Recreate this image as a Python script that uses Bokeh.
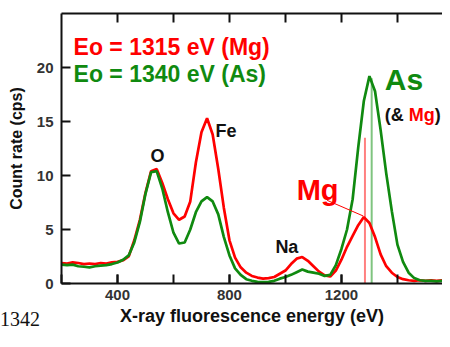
from bokeh.plotting import figure
from bokeh.models import Range1d, LinearAxis, FixedTicker, Div
from bokeh.layouts import column
from bokeh.embed import file_html
from bokeh.resources import INLINE
from bokeh.core.properties import value

# ---------------- data ----------------
energy = list(range(200, 1600, 20))  # eV

count_mg = [1.90, 1.85, 1.95, 1.90, 1.80, 1.85, 1.80, 1.90, 1.85, 1.95,
            2.00, 2.15, 2.50, 4.00, 5.90, 8.40, 10.40, 10.60, 9.30, 7.80,
            6.50, 5.90, 6.20, 7.60, 11.20, 14.00, 15.30, 13.80, 10.60, 7.00,
            4.00, 2.40, 1.50, 1.00, 0.70, 0.55, 0.45, 0.50, 0.60, 0.90,
            1.20, 1.80, 2.30, 2.45, 2.10, 1.60, 1.10, 0.75, 0.65, 1.20,
            2.20, 3.40, 4.40, 5.40, 6.15, 5.60, 4.30, 2.70, 1.60, 1.00,
            0.60, 0.40, 0.30, 0.25, 0.30, 0.25, 0.30, 0.25, 0.30, 0.25]

count_as = [1.75, 1.70, 1.75, 1.60, 1.55, 1.50, 1.60, 1.65, 1.70, 1.80,
            1.95, 2.20, 2.60, 3.80, 5.70, 8.30, 10.30, 10.40, 8.80, 6.60,
            4.70, 3.70, 3.80, 5.00, 6.60, 7.60, 8.00, 7.60, 6.40, 4.30,
            2.60, 1.40, 0.80, 0.40, 0.25, 0.15, 0.12, 0.15, 0.25, 0.45,
            0.60, 0.80, 1.05, 1.30, 1.10, 1.00, 0.90, 0.70, 0.80, 1.70,
            3.20, 5.00, 7.80, 12.60, 16.90, 19.20, 17.80, 14.20, 10.20, 6.70,
            3.60, 2.00, 1.00, 0.50, 0.30, 0.25, 0.25, 0.20, 0.25, 0.20]

series_labels = ["Eo = 1315 eV (Mg)", "Eo = 1340 eV (As)"]

line_energy = [1284, 1308]       # marker lines (Mg, As)
line_top = [13.5, 19.0]

x_labeled_ticks = [400, 800, 1200]
x_all_ticks = [200, 400, 600, 800, 1000, 1200, 1400]
y_ticks = [0, 5, 10, 15, 20]

peak_names = ["O", "Fe", "Na"]
peak_x = [518, 750, 964]
peak_y = [11.8, 14.1, 3.4]

figure_number = "1342"

RED = "#ff0000"
GREEN = "#108a10"

# ---------------- figure ----------------
p = figure(width=442, height=331, x_range=Range1d(200, 1561), y_range=Range1d(0, 25),
           output_backend="svg", toolbar_location=None,
           x_axis_type=None, y_axis_type=None,
           min_border_left=61, min_border_right=0, min_border_top=13, min_border_bottom=48)
p.outline_line_color = None
p.xgrid.visible = False
p.ygrid.visible = False
p.background_fill_color = "white"
p.border_fill_color = "white"

FONT = "Liberation Sans"

xb = LinearAxis(ticker=FixedTicker(ticks=x_labeled_ticks, minor_ticks=x_all_ticks),
                axis_label="X-ray fluorescence energy (eV)")
xt = LinearAxis(ticker=FixedTicker(ticks=[], minor_ticks=x_all_ticks[1:]),
                major_label_standoff=0)
yl = LinearAxis(ticker=FixedTicker(ticks=y_ticks), axis_label="Count rate (cps)")
for ax in (xb, xt, yl):
    ax.axis_line_width = 2
    ax.axis_line_color = "#111111"
    ax.major_tick_line_width = 2
    ax.major_tick_line_color = "#111111"
    ax.major_tick_in = 9
    ax.major_tick_out = 0
    ax.minor_tick_line_width = 2
    ax.minor_tick_line_color = "#111111"
    ax.minor_tick_in = 9
    ax.minor_tick_out = 0
    ax.major_label_text_font = FONT
    ax.major_label_text_font_style = "bold"
    ax.major_label_text_color = "#333333"
    ax.axis_label_text_font = FONT
    ax.axis_label_text_font_style = "bold"
    ax.axis_label_text_color = "#111111"
yl.minor_tick_line_color = None
xb.major_label_text_font_size = "15px"
yl.major_label_text_font_size = "15px"
xb.major_label_standoff = 6
yl.major_label_standoff = 8
xb.axis_label_text_font_size = "18px"
yl.axis_label_text_font_size = "16px"
xb.axis_label_standoff = 3
yl.axis_label_standoff = 9
p.add_layout(xb, "below")
p.add_layout(xt, "above")
p.add_layout(yl, "left")

# marker lines
p.segment(x0=[line_energy[0]], y0=[0], x1=[line_energy[0]], y1=[line_top[0]],
          line_color="#ff8080", line_width=2)
p.segment(x0=[line_energy[1]], y0=[0], x1=[line_energy[1]], y1=[line_top[1]],
          line_color="#7fc47f", line_width=2)

# spectra
p.line(energy, count_mg, line_color=RED, line_width=2.7)
p.line(energy, count_as, line_color=GREEN, line_width=2.7)

# Mg pointer
p.segment(x0=[1149], y0=[7.7], x1=[1278], y1=[6.25], line_color=RED, line_width=1)

def txt(x, y, s, color, size, xoff=0):
    p.text(x=[x], y=[y], text=[s], text_color=color, text_font=value(FONT),
           text_font_style="bold", text_font_size=size, text_baseline="alphabetic",
           text_align="left", x_offset=xoff)

txt(243, 21.9, series_labels[0], RED, "23px")
txt(243, 19.4, series_labels[1], GREEN, "23px")
for n, x, y in zip(peak_names, peak_x, peak_y):
    txt(x, y, n, "#111111", "18px")
txt(1040, 8.7, "Mg", RED, "29px")
txt(1355, 18.9, "As", GREEN, "30px")
txt(1355, 15.6, "(&", "#111111", "18px")
txt(1355, 15.6, "Mg", RED, "18px", 24)
txt(1355, 15.6, ")", "#111111", "18px", 50)

fig_num = Div(text=figure_number, width=60, height=24, margin=(-24, 0, 0, 0),
              styles={"font-family": "Liberation Serif", "font-size": "20px",
                      "color": "#111111", "line-height": "24px"})

layout = column(p, fig_num, spacing=0)
open("out.html", "w").write(file_html(layout, INLINE))
